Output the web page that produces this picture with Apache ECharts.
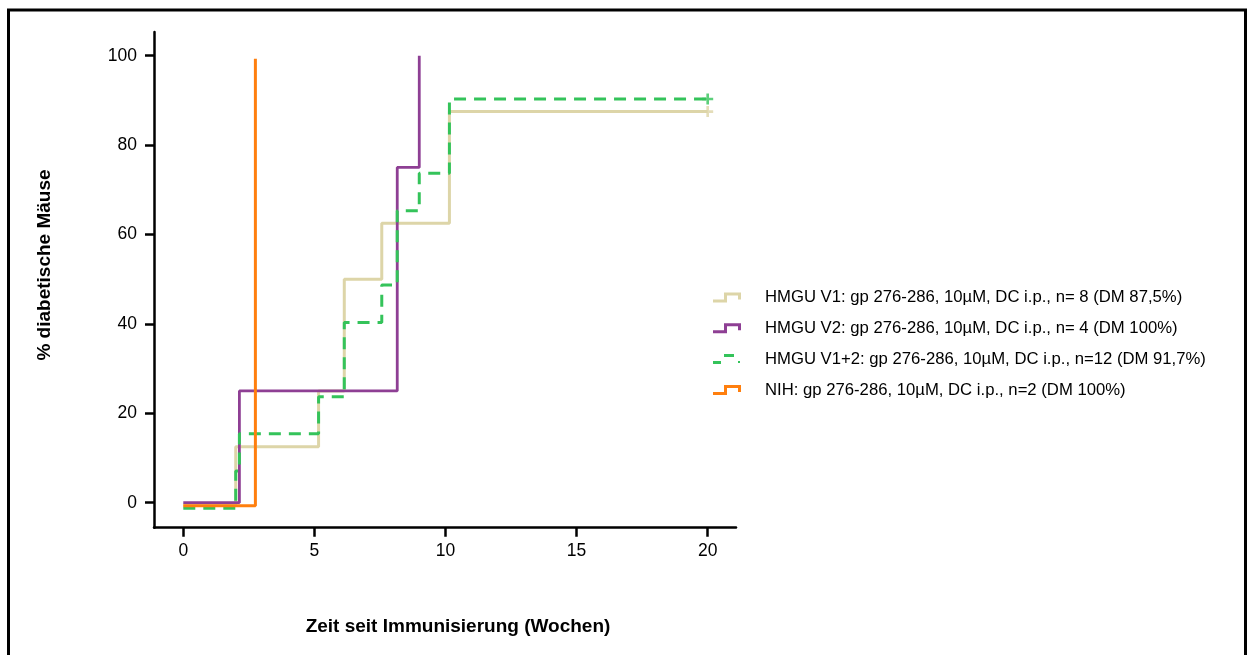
<!DOCTYPE html>
<html>
<head>
<meta charset="utf-8">
<script src="https://cdn.jsdelivr.net/npm/echarts@6/dist/echarts.min.js"></script>
<style>
html,body{margin:0;padding:0;background:#fff;}
#chart{width:1247px;height:655px;}
</style>
</head>
<body>
<div id="chart"></div>
<script>
// ---- data (weeks, % diabetic mice) ----
const seriesNames = [
  'HMGU V1: gp 276-286, 10µM, DC i.p., n= 8 (DM 87,5%)',
  'HMGU V2: gp 276-286, 10µM, DC i.p., n= 4 (DM 100%)',
  'HMGU V1+2: gp 276-286, 10µM, DC i.p., n=12 (DM 91,7%)',
  'NIH: gp 276-286, 10µM, DC i.p., n=2 (DM 100%)'
];
const v1Times   = [0, 2.0, 5.16, 6.14, 7.57, 10.15, 20];
const v1Values  = [-0.5, 12.5, 25, 50, 62.5, 87.5, 87.5];
const v2Times   = [0, 2.14, 8.16, 9.0];
const v2Values  = [0, 25, 75, 100];
const v12Times  = [0, 2.0, 2.14, 5.16, 6.14, 7.57, 8.16, 9.0, 10.15, 20];
const v12Values = [-1.25, 7.1, 15.4, 23.7, 40.3, 48.7, 65.3, 73.7, 90.3, 90.3];
const nihTimes  = [0, 2.75];
const nihValues = [-0.7, 99.3];
const xTicks = [0, 5, 10, 15, 20];
const yTicks = [0, 20, 40, 60, 80, 100];
const xTitle = 'Zeit seit Immunisierung (Wochen)';
const yTitle = '% diabetische Mäuse';

const colors = ['#ddd5a8', '#8e3f94', '#34c35a', '#ff7f0e'];
const zip = (t, v) => t.map((x, i) => [x, v[i]]);

const iconStep = 'path://M0 7L11 7L11 0L28 0L28 7L25 7L25 3L14 3L14 10L0 10Z M47 5L47 5.01Z';
const iconDash = 'path://M0 7L8 7L8 10L0 10Z M11 0L21 0L21 3L11 3Z M25 7L27 7L27 9L25 9Z M47 5L47 5.01Z';
const plusSym = 'path://M4 0L6.5 0L6.5 4L10.5 4L10.5 6.5L6.5 6.5L6.5 10.5L4 10.5L4 6.5L0 6.5L0 4L4 4Z';

const chart = echarts.init(document.getElementById('chart'), null, {renderer: 'canvas'});
const font = 'Liberation Sans, Arial, sans-serif';

function stepSeries(name, data, color, width, dashed, z) {
  return {
    name, type: 'line', step: 'end', data, showSymbol: false, symbol: 'none',
    z, animation: false,
    lineStyle: {color, width, type: dashed ? [12, 8] : 'solid', cap: 'butt'},
    itemStyle: {color}
  };
}

chart.setOption({
  backgroundColor: '#fff',
  animation: false,
  textStyle: {fontFamily: font},
  grid: {left: 154, top: 32, width: 582, height: 495.7},
  xAxis: {
    type: 'value', min: -1.117, max: 21.08,
    splitLine: {show: false},
    axisLine: {show: true, onZero: false, lineStyle: {color: '#000', width: 2.5}},
    axisTick: {show: true, customValues: xTicks, length: 9, lineStyle: {color: '#000', width: 2.5}},
    axisLabel: {customValues: xTicks, color: '#000', fontSize: 17.5, margin: 14, fontFamily: font}
  },
  yAxis: {
    type: 'value', min: -5.59, max: 105.3,
    splitLine: {show: false},
    axisLine: {show: true, onZero: false, lineStyle: {color: '#000', width: 2.5}},
    axisTick: {show: true, customValues: yTicks, length: 9, lineStyle: {color: '#000', width: 2.5}},
    axisLabel: {customValues: yTicks, color: '#000', fontSize: 17.5, margin: 17, fontFamily: font}
  },
  legend: {
    orient: 'vertical', left: 713, top: 288, padding: 0,
    itemWidth: 47, itemHeight: 10, itemGap: 11.8, symbolKeepAspect: false,
    textStyle: {fontSize: 16.7, color: '#000', fontFamily: font, lineHeight: 19},
    data: [
      {name: seriesNames[0], icon: iconStep, itemStyle: {color: colors[0]}},
      {name: seriesNames[1], icon: iconStep, itemStyle: {color: colors[1]}},
      {name: seriesNames[2], icon: iconDash, itemStyle: {color: colors[2]}},
      {name: seriesNames[3], icon: iconStep, itemStyle: {color: colors[3]}}
    ],
    selectedMode: false
  },
  graphic: [
    {type: 'rect', shape: {x: 8.5, y: 10, width: 1237, height: 700}, style: {fill: 'none', stroke: '#000', lineWidth: 3}, z: 100},
    {type: 'text', x: 458, y: 627, style: {text: xTitle, font: 'bold 19px ' + font, fill: '#000', textAlign: 'center', textVerticalAlign: 'middle'}},
    {type: 'text', x: 45, y: 265, rotation: Math.PI / 2, style: {text: yTitle, font: 'bold 19px ' + font, fill: '#000', textAlign: 'center', textVerticalAlign: 'middle'}}
  ],
  series: [
    stepSeries(seriesNames[0], zip(v1Times, v1Values), colors[0], 3, false, 2),
    stepSeries(seriesNames[1], zip(v2Times, v2Values), colors[1], 2.8, false, 3),
    stepSeries(seriesNames[2], zip(v12Times, v12Values), colors[2], 3, true, 4),
    stepSeries(seriesNames[3], zip(nihTimes, nihValues), colors[3], 3, false, 5),
    {type: 'scatter', symbol: plusSym, symbolSize: 11, z: 6, silent: true,
     data: [{value: [v1Times[v1Times.length - 1], v1Values[v1Values.length - 1]], itemStyle: {color: colors[0]}},
            {value: [v12Times[v12Times.length - 1], v12Values[v12Values.length - 1]], itemStyle: {color: colors[2]}}]}
  ]
});
</script>
</body>
</html>
